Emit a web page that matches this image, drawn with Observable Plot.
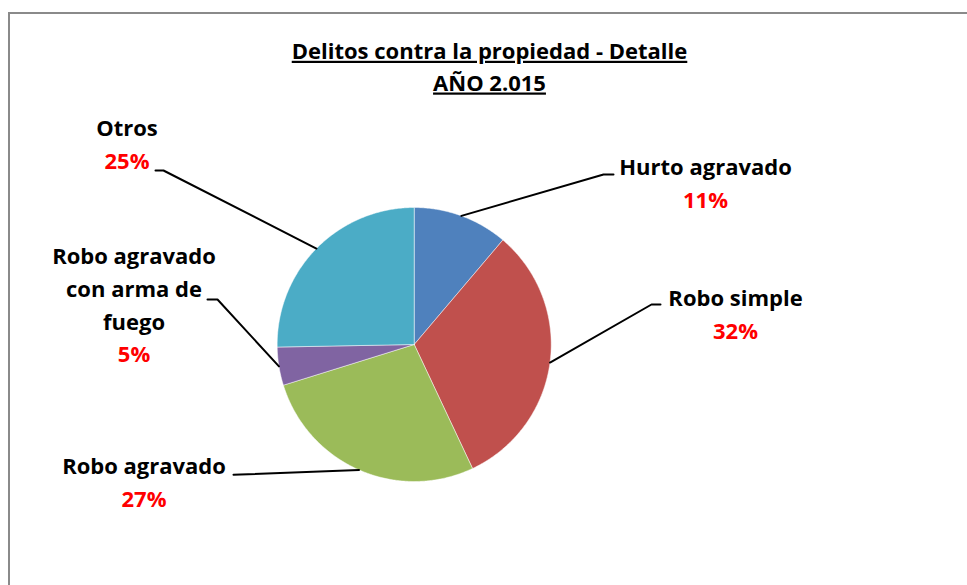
<!DOCTYPE html>
<html><head><meta charset="utf-8">
<script src="https://cdn.jsdelivr.net/npm/d3@7"></script>
<script src="https://cdn.jsdelivr.net/npm/@observablehq/plot@0.6"></script>
<style>
body{margin:0;background:#fff;}
#chart{position:absolute;left:0;top:0;}
#frame{position:absolute;left:8px;top:12px;right:-10px;bottom:-10px;border-left:2.5px solid #8a8a8a;border-top:2.5px solid #8a8a8a;pointer-events:none;}
</style></head><body>
<div id="chart"></div><div id="frame"></div>
<script>
// ---- data ----
const categories = ["Hurto agravado", "Robo simple", "Robo agravado", "Robo agravado con arma de fuego", "Otros"];
const labelLines = [["Hurto agravado"], ["Robo simple"], ["Robo agravado"], ["Robo agravado", "con arma de", "fuego"], ["Otros"]];
const values = [11.2, 31.8, 27.2, 4.5, 25.3];
const colors = ["#4F81BD", "#C0504D", "#9BBB59", "#8064A2", "#4BACC6"];
const titleLines = ["Delitos contra la propiedad - Detalle", "AÑO 2.015"];

// ---- layout ----
const W = 967, H = 585, cx = 413.7, cy = 344, R = 137;
const labelLayout = [
  {x: 705,   y: 174.5, elbow: [603, 174],   end: [613, 174]},
  {x: 735,   y: 305.5, elbow: [651, 304],   end: [660, 304]},
  {x: 143.5, y: 473.5, elbow: [240, 474],   end: [233, 474.3]},
  {x: 133.5, y: 263.5, elbow: [217, 299],   end: [207, 299]},
  {x: 126.5, y: 135.5, elbow: [163, 170],   end: [155, 170]}
];
const lineGap = 32.8;
const font = "'Open Sans', 'Noto Sans', sans-serif";

const total = d3.sum(values);
const arcs = d3.pie().sort(null).value(d => d)(values);
const pt = (a, r) => [cx + r * Math.sin(a), cy - r * Math.cos(a)];

const slicePts = [];
arcs.forEach((a, i) => {
  const n = Math.max(2, Math.ceil((a.endAngle - a.startAngle) / (Math.PI / 360)));
  slicePts.push({name: categories[i], x: cx, y: cy});
  for (let k = 0; k <= n; k++) {
    const t = a.startAngle + (a.endAngle - a.startAngle) * k / n;
    const [x, y] = pt(t, R);
    slicePts.push({name: categories[i], x, y});
  }
  slicePts.push({name: categories[i], x: cx, y: cy});
});

const leaderPts = [];
arcs.forEach((a, i) => {
  const mid = (a.startAngle + a.endAngle) / 2;
  const [x0, y0] = pt(mid, R);
  const L = labelLayout[i];
  leaderPts.push({i, x: x0, y: y0}, {i, x: L.elbow[0], y: L.elbow[1]}, {i, x: L.end[0], y: L.end[1]});
});

const nameRows = [], pctRows = [];
categories.forEach((c, i) => {
  const L = labelLayout[i];
  labelLines[i].forEach((t, k) => nameRows.push({x: L.x, y: L.y + k * lineGap, text: t}));
  pctRows.push({x: L.x, y: L.y + labelLines[i].length * lineGap, text: Math.round(values[i] / total * 100) + "%"});
});

const titleRows = titleLines.map((t, k) => ({x: 489, y: 58.3 + k * 31.7, text: t}));

const plot = Plot.plot({
  width: W, height: H, margin: 0,
  style: {fontFamily: font, background: "transparent"},
  x: {domain: [0, W], range: [0, W], axis: null},
  y: {domain: [0, H], range: [0, H], axis: null},
  color: {domain: categories, range: colors},
  marks: [
    Plot.line(slicePts, {x: "x", y: "y", z: "name", fill: "name", stroke: "#ffffff", strokeWidth: 0.8, strokeOpacity: 0.6}),
    Plot.line(leaderPts, {x: "x", y: "y", z: "i", stroke: "#000", strokeWidth: 2}),
    Plot.text(nameRows, {x: "x", y: "y", text: "text", fill: "#000", fontSize: 22, fontWeight: "bold", lineAnchor: "bottom", fontFamily: font}),
    Plot.text(pctRows, {x: "x", y: "y", text: "text", fill: "#ff0000", fontSize: 22, fontWeight: "bold", lineAnchor: "bottom", fontFamily: font}),
    Plot.text(titleRows, {x: "x", y: "y", text: "text", fill: "#000", fontSize: 22, fontWeight: "bold", lineAnchor: "bottom", fontFamily: font})
  ]
});
document.getElementById("chart").appendChild(plot);
plot.querySelectorAll("text").forEach(t => {
  if (titleLines.includes(t.textContent)) {
    t.style.textDecoration = "underline";
    t.setAttribute("text-decoration", "underline");
  }
});
</script>
</body></html>
